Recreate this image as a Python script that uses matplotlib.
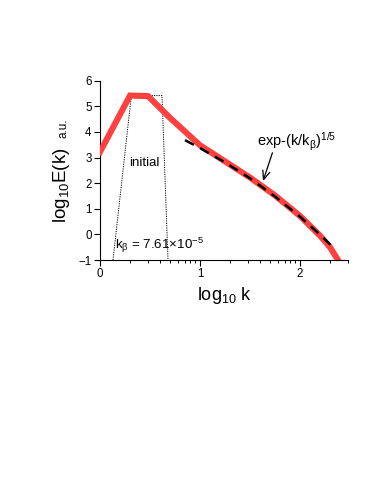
import numpy as np
import matplotlib
matplotlib.use("Agg")
import matplotlib.pyplot as plt
from matplotlib.ticker import FixedLocator

plt.rcParams['font.family'] = ['Liberation Sans', 'DejaVu Sans']
plt.rcParams['mathtext.fontset'] = 'custom'
plt.rcParams['mathtext.rm'] = 'Liberation Sans'
plt.rcParams['mathtext.it'] = 'Liberation Sans'
plt.rcParams['mathtext.bf'] = 'Liberation Sans'

# spectrum (log10 k, log10 E)
spec_x = [0.0, 0.30, 0.48, 0.70, 1.00, 1.25, 1.50, 1.75, 2.00, 2.20, 2.30, 2.38]
spec_y = [3.22, 5.42, 5.40, 4.55, 3.48, 2.85, 2.22, 1.52, 0.72, -0.05, -0.50, -1.00]

# stretched-exponential fit exp-(k/k_beta)^(1/5)
fit_x = [0.85, 1.00, 1.25, 1.50, 1.75, 2.00, 2.20, 2.35]
fit_y = [3.68, 3.37, 2.81, 2.19, 1.48, 0.69, -0.01, -0.58]

# initial spectrum
init_x = [0.13, 0.31, 0.34, 0.62, 0.68]
init_y = [-1.0, 5.30, 5.42, 5.42, -1.0]

yticks = [-1, 0, 1, 2, 3, 4, 5, 6]
xticks = [0, 1, 2]

fig = plt.figure(figsize=(3.74, 4.88), dpi=100)
ax = fig.add_axes([0.2674, 0.4672, 0.6631, 0.3674])

ax.plot(init_x, init_y, color='black', lw=0.7, ls=(0, (1.2, 1.2)), zorder=2)
ax.plot(spec_x, spec_y, color='#ff4040', lw=4.4, solid_joinstyle='miter', zorder=3)
ax.plot(fit_x, fit_y, color='black', lw=1.8, ls=(0, (4, 2.8)), zorder=4)

ax.set_xlim(0, 2.48)
ax.set_ylim(-1, 6)
for s in ['top', 'right']:
    ax.spines[s].set_visible(False)
ax.spines['left'].set_linewidth(0.8)
ax.spines['bottom'].set_linewidth(0.8)

ax.set_yticks(yticks)
ax.set_xticks(xticks)
minor = [d + np.log10(n) for d in (0, 1, 2) for n in range(2, 10)]
minor = [m for m in minor if m < 2.48]
ax.xaxis.set_minor_locator(FixedLocator(minor))
ax.tick_params(axis='both', which='major', length=4, width=0.8, labelsize=8.3, pad=2)
ax.tick_params(axis='x', which='minor', length=2.2, width=0.7)

ax.text(0.44, 2.8, 'initial', fontsize=9.5, ha='center', va='center')
ax.text(0.15, -0.42, r'k$_\beta$ = 7.61$\times$10$^{-5}$', fontsize=9.6, ha='left', va='center')
ax.annotate(r'exp-(k/k$_\beta$)$^{1/5}$', xy=(1.63, 2.08), xytext=(1.97, 3.62),
            fontsize=10.5, ha='center', va='center',
            arrowprops=dict(arrowstyle='->,head_length=0.6,head_width=0.25', color='black',
                            lw=0.9, shrinkA=0, shrinkB=0, patchA=None,
                            relpos=(0.19, 0.0)))

fig.text(224 / 374, 1 - 296 / 488, r'log$_{10}$ k', fontsize=13, ha='center', va='center')
fig.text(61 / 374, 1 - 185 / 488, r'log$_{10}$E(k)', fontsize=13.5, ha='center', va='center', rotation=90)
fig.text(64 / 374, 1 - 128 / 488, 'a.u.', fontsize=8.5, ha='center', va='center', rotation=90)

fig.savefig('out.png', dpi=100)
